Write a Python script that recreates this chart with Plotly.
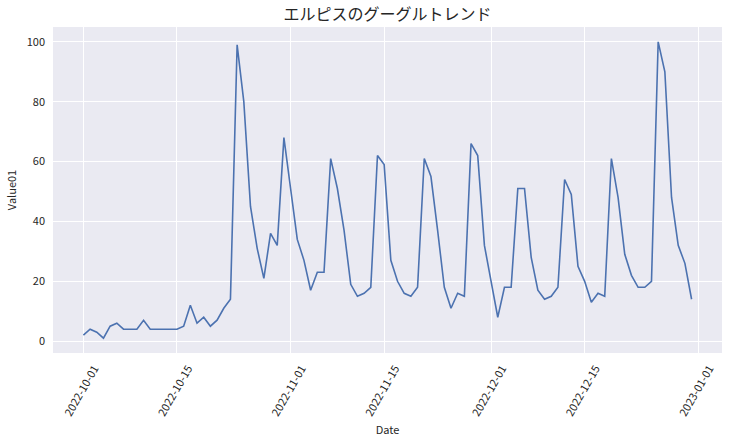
import pandas as pd
import plotly.graph_objects as go

start_date = "2022-10-01"
values = [2, 4, 3, 1, 5, 6, 4, 4, 4, 7, 4, 4, 4, 4, 4, 5, 12, 6, 8, 5,
          7, 11, 14, 99, 80, 45, 31, 21, 36, 32, 68, 51, 34, 27, 17, 23, 23, 61, 51, 37,
          19, 15, 16, 18, 62, 59, 27, 20, 16, 15, 18, 61, 55, 37, 18, 11, 16, 15, 66, 62,
          32, 20, 8, 18, 18, 51, 51, 28, 17, 14, 15, 18, 54, 49, 25, 20, 13, 16, 15, 61,
          48, 29, 22, 18, 18, 20, 100, 90, 48, 32, 26, 14]
dates = pd.date_range(start_date, periods=len(values), freq="D")
tick_dates = ["2022-10-01", "2022-10-15", "2022-11-01", "2022-11-15",
              "2022-12-01", "2022-12-15", "2023-01-01"]
y_ticks = [0, 20, 40, 60, 80, 100]

span = (dates[-1] - dates[0])
x0 = dates[0] - span * 0.05
x1 = dates[-1] + span * 0.05
ymin, ymax = min(values), max(values)
yr = ymax - ymin

font = "Noto Sans CJK JP"
fig = go.Figure(go.Scatter(x=dates, y=values, mode="lines",
                           line=dict(color="#4C72B0", width=1.6)))
fig.update_layout(
    width=729, height=444,
    margin=dict(l=53, r=7, t=27, b=91),
    paper_bgcolor="white", plot_bgcolor="#EAEAF2",
    font=dict(family=font, color="#262626", size=11),
    title=dict(text="エルピスのグーグルトレンド", x=(53 + 722) / 2 / 729, xanchor="center",
               y=1 - 14 / 444, yanchor="middle", font=dict(size=16, color="#262626")),
    showlegend=False,
)
fig.update_xaxes(range=[x0, x1], tickvals=tick_dates, ticktext=tick_dates,
                 tickangle=-60, showgrid=True, gridcolor="white", gridwidth=1,
                 zeroline=False, showline=False, ticks="", automargin=False,
                 ticklabelshift=11, ticklabelstandoff=6,
                 title=dict(text="Date", font=dict(size=11), standoff=8))
fig.update_yaxes(range=[ymin - 0.05 * yr, ymax + 0.05 * yr], tickvals=y_ticks,
                 showgrid=True, gridcolor="white", gridwidth=1,
                 zeroline=False, showline=False, ticks="", automargin=False,
                 ticklabelstandoff=7,
                 title=dict(text="Value01", font=dict(size=11), standoff=7))
fig.write_html("out.html", post_script="document.body.style.margin='0';",
               config={"displayModeBar": False})
